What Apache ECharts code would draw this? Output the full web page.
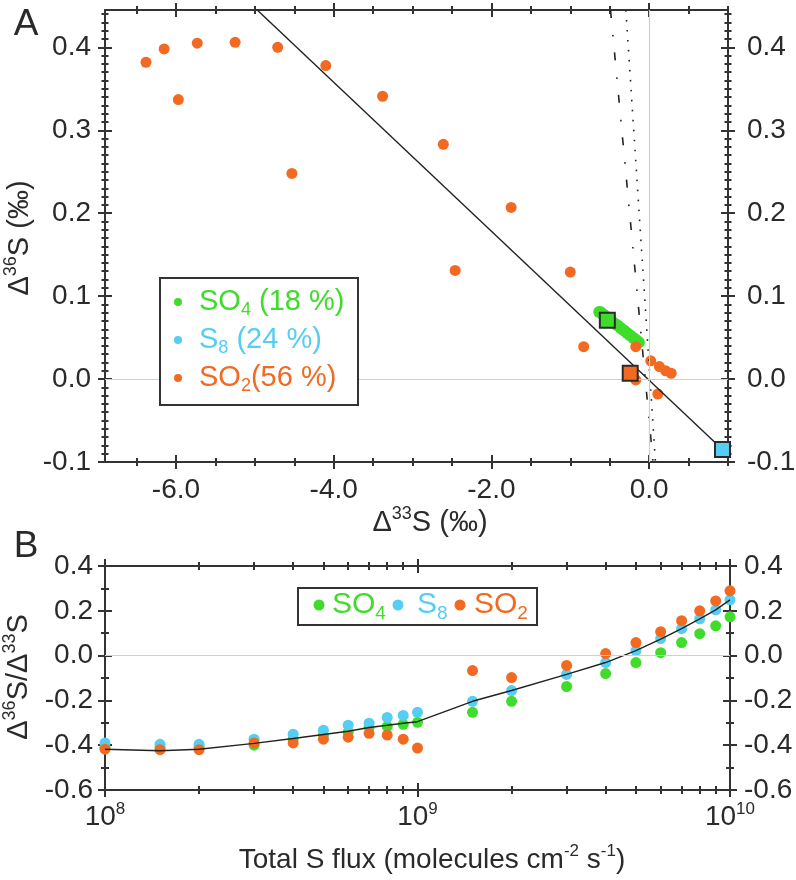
<!DOCTYPE html>
<html><head><meta charset="utf-8">
<script src="https://cdn.jsdelivr.net/npm/echarts@6/dist/echarts.min.js"></script>
<style>html,body{margin:0;padding:0;background:#fff;}#c{width:796px;height:880px;}</style>
</head><body><div id="c"></div>
<script>
// ---------- Panel A data (Δ33S vs Δ36S, ‰) ----------
const so2A_x = [-6.38,-6.15,-5.97,-5.73,-5.25,-4.71,-4.53,-4.10,-3.38,-2.61,-2.46,-1.75,-1.00,-0.83,-0.17,-0.17,0.02,0.13,0.21,0.28,0.11];
const so2A_y = [0.382,0.398,0.337,0.405,0.406,0.400,0.248,0.378,0.341,0.283,0.131,0.207,0.129,0.039,0.039,-0.001,0.022,0.015,0.010,0.007,-0.018];
const so4A_x = [-0.633,-0.615,-0.59,-0.56,-0.52,-0.48,-0.44,-0.40,-0.36,-0.32,-0.28,-0.24,-0.20,-0.165,-0.13];
const so4A_y = [0.081,0.0805,0.0785,0.0765,0.073,0.070,0.067,0.0645,0.0615,0.0585,0.0555,0.0525,0.0495,0.047,0.0445];
const meanA_x = [-0.53,-0.24,0.93];      // SO4, SO2, S8 means (squares)
const meanA_y = [0.071,0.007,-0.085];
const fitA_x = [-4.97,0.93];
const fitA_y = [0.445,-0.085];
const dashDotA_x = [-0.49,0.05];
const dashDotA_y = [0.445,-0.1];
const dotA_x = [-0.295,0.08];
const dotA_y = [0.445,-0.1];
const xTicksA = [-6,-4,-2,0];
const yTicksA = [-0.1,0,0.1,0.2,0.3,0.4];

// ---------- Panel B data ----------
const fluxB = [1e8,1.5e8,2e8,3e8,4e8,5e8,6e8,7e8,8e8,9e8,1e9,1.5e9,2e9,3e9,4e9,5e9,6e9,7e9,8e9,9e9,1e10];
const so4B = [-0.41,-0.41,-0.41,-0.40,-0.373,-0.355,-0.342,-0.32,-0.316,-0.307,-0.298,-0.253,-0.204,-0.138,-0.08,-0.031,0.013,0.058,0.098,0.133,0.173];
const s8B  = [-0.39,-0.396,-0.396,-0.373,-0.351,-0.333,-0.311,-0.302,-0.276,-0.267,-0.253,-0.204,-0.156,-0.084,-0.031,0.022,0.076,0.12,0.164,0.204,0.249];
const so2B = [-0.418,-0.42,-0.42,-0.39,-0.39,-0.373,-0.364,-0.347,-0.355,-0.373,-0.413,-0.067,-0.098,-0.044,0.009,0.058,0.107,0.156,0.2,0.244,0.289];
const totalB = [-0.418,-0.425,-0.418,-0.392,-0.37,-0.352,-0.338,-0.321,-0.311,-0.302,-0.295,-0.204,-0.156,-0.084,-0.031,0.022,0.074,0.12,0.164,0.204,0.249];
const xTicksB = [1e8,1e9,1e10];
const yTicksB = [-0.6,-0.4,-0.2,0,0.2,0.4];

// ---------- styling ----------
const GREEN = '#3fdc2c', CYAN = '#56cdf2', ORANGE = '#f26a22';
const AX = '#333', TXT = '#2a2a2a';
const FF = '"Liberation Sans", Arial, Helvetica, sans-serif';

function steps(a, b, s) { const r = []; for (let v = a; v <= b + 1e-9; v += s) r.push(+v.toFixed(6)); return r; }
function minus(all, majors) { return all.filter(v => !majors.some(m => Math.abs(m - v) < 1e-7)); }

const xMinA = minus(steps(-6.5, 1.0, 0.5), xTicksA);
const yMinA = minus(steps(-0.1, 0.44, 0.01), yTicksA);
const yMinB = minus(steps(-0.6, 0.4, 0.1), yTicksB);
const xMinB = [];
[1e8, 1e9].forEach(d => { for (let k = 2; k <= 9; k++) xMinB.push(k * d); });

function axisSet(grid, pos, common, majors, minors, majLen, minLen, label) {
  const mk = (vals, len, inside, showLine, lab) => Object.assign({
    gridIndex: grid, position: pos,
    splitLine: {show: false}, splitArea: {show: false}, minorTick: {show: false},
    axisLine: {show: showLine, onZero: false, lineStyle: {color: AX, width: 2}},
    axisTick: {show: true, inside: inside, length: len, customValues: vals, lineStyle: {color: AX, width: 2}},
    axisLabel: lab ? Object.assign({show: true, customValues: majors, color: TXT, fontFamily: FF}, lab) : {show: false}
  }, common);
  return [mk(majors, majLen, false, true, label), mk(majors, majLen, true, false, null),
          mk(minors, minLen, false, false, null), mk(minors, minLen, true, false, null)];
}

const cXA = {type: 'value', min: -6.9, max: 1.0};
const cYA = {type: 'value', min: -0.1, max: 0.445};
const cXB = {type: 'log', logBase: 10, min: 1e8, max: 1e10};
const cYB = {type: 'value', min: -0.6, max: 0.4};
const fmt1 = v => v.toFixed(1);

const xAxes = [].concat(
  axisSet(0, 'bottom', cXA, xTicksA, xMinA, 7, 4, {fontSize: 28, margin: 14, formatter: fmt1}),
  axisSet(0, 'top', cXA, xTicksA, xMinA, 7, 4, null),
  axisSet(1, 'bottom', cXB, xTicksB, xMinB, 7, 4, {
    margin: 11,
    formatter: v => '{b|10}{s|' + Math.round(Math.log10(v)) + '}',
    rich: {b: {fontSize: 28, lineHeight: 32, fontFamily: FF, color: TXT},
           s: {fontSize: 17, lineHeight: 17, verticalAlign: 'top', fontFamily: FF, color: TXT}}
  }),
  axisSet(1, 'top', cXB, xTicksB, xMinB, 7, 4, null)
);
const yAxes = [].concat(
  axisSet(0, 'left', cYA, yTicksA, yMinA, 7, 3.5, {fontSize: 28, margin: 14, formatter: fmt1}),
  axisSet(0, 'right', cYA, yTicksA, yMinA, 7, 3.5, {fontSize: 28, margin: 19, formatter: fmt1}),
  axisSet(1, 'left', cYB, yTicksB, yMinB, 7, 4, {fontSize: 28, margin: 12, formatter: fmt1}),
  axisSet(1, 'right', cYB, yTicksB, yMinB, 7, 4, {fontSize: 28, margin: 14, formatter: fmt1})
);

const zip = (a, b) => a.map((v, i) => [v, b[i]]);
const gray = {silent: true, symbol: 'none', label: {show: false}, lineStyle: {color: '#cfcfcf', width: 1.2, type: 'solid'}};
const dot = (c) => ({color: c, opacity: 1});

const series = [
  // Panel A
  {type: 'scatter', name: 'SO4', xAxisIndex: 0, yAxisIndex: 0, data: zip(so4A_x, so4A_y), symbolSize: 12, itemStyle: dot(GREEN),
   markLine: Object.assign({data: [{yAxis: 0}, {xAxis: 0}]}, gray)},
  {type: 'scatter', name: 'SO2', xAxisIndex: 0, yAxisIndex: 0, data: zip(so2A_x, so2A_y), symbolSize: 11, itemStyle: dot(ORANGE)},
  {type: 'line', xAxisIndex: 0, yAxisIndex: 0, data: zip(fitA_x, fitA_y), showSymbol: false, symbol: 'none',
   lineStyle: {color: '#222', width: 1.4}},
  {type: 'line', xAxisIndex: 0, yAxisIndex: 0, data: zip(dashDotA_x, dashDotA_y), showSymbol: false, symbol: 'none',
   lineStyle: {color: '#222', width: 1.6, type: [8, 17, 1.6, 16]}},
  {type: 'line', xAxisIndex: 0, yAxisIndex: 0, data: zip(dotA_x, dotA_y), showSymbol: false, symbol: 'none',
   lineStyle: {color: '#222', width: 1.6, type: [1.6, 8.4]}},
  {type: 'scatter', xAxisIndex: 0, yAxisIndex: 0, symbol: 'rect', symbolSize: 15,
   data: [{value: [meanA_x[0], meanA_y[0]], itemStyle: {color: GREEN}},
          {value: [meanA_x[1], meanA_y[1]], itemStyle: {color: ORANGE}},
          {value: [meanA_x[2], meanA_y[2]], itemStyle: {color: CYAN}}],
   itemStyle: {borderColor: '#2a2a2a', borderWidth: 2, opacity: 1}, z: 5},
  // Panel B
  {type: 'scatter', name: 'SO4', xAxisIndex: 8, yAxisIndex: 8, data: zip(fluxB, so4B), symbolSize: 11, itemStyle: dot(GREEN),
   markLine: Object.assign({data: [{yAxis: 0}]}, gray)},
  {type: 'scatter', name: 'S8', xAxisIndex: 8, yAxisIndex: 8, data: zip(fluxB, s8B), symbolSize: 11, itemStyle: dot(CYAN)},
  {type: 'scatter', name: 'SO2', xAxisIndex: 8, yAxisIndex: 8, data: zip(fluxB, so2B), symbolSize: 11, itemStyle: dot(ORANGE)},
  {type: 'line', xAxisIndex: 8, yAxisIndex: 8, data: zip(fluxB, totalB), showSymbol: false, symbol: 'none',
   lineStyle: {color: '#222', width: 1.4}, z: 4}
];

function rich(size, color) {
  return {
    m: {fontSize: size, lineHeight: size + 6, fontFamily: FF, fill: color},
    s: {fontSize: Math.round(size * 0.62), lineHeight: Math.round(size * 0.62), verticalAlign: 'bottom', fontFamily: FF, fill: color},
    p: {fontSize: Math.round(size * 0.62), lineHeight: Math.round(size * 0.62), verticalAlign: 'top', fontFamily: FF, fill: color}
  };
}
function txt(x, y, text, size, color, rot, align) {
  return {type: 'text', x: x, y: y, rotation: rot || 0, z: 100, silent: true,
    style: {text: text, rich: rich(size, color), fill: color, fontSize: size, fontFamily: FF,
            align: align || 'center', verticalAlign: 'middle', textAlign: align || 'center', textVerticalAlign: 'middle'}};
}

const graphic = [
  txt(26, 25, '{m|A}', 37, TXT),
  txt(26, 547, '{m|B}', 37, TXT),
  txt(430, 523, '{m|Δ}{p|33}{m|S (‰)}', 29, TXT),
  txt(20, 238, '{m|Δ}{p|36}{m|S (‰)}', 29, TXT, Math.PI / 2),
  txt(432, 860, '{m|Total S flux (molecules cm}{p|-2}{m| s}{p|-1}{m|)}', 28, TXT),
  txt(19, 677, '{m|Δ}{p|36}{m|S/Δ}{p|33}{m|S}', 29, TXT, Math.PI / 2),
  // legend A
  {type: 'rect', shape: {x: 160, y: 278, width: 198, height: 127}, style: {fill: '#fff', stroke: '#333', lineWidth: 2}, z: 90, silent: true},
  {type: 'circle', shape: {cx: 178, cy: 302, r: 4}, style: {fill: GREEN}, z: 100, silent: true},
  {type: 'circle', shape: {cx: 178, cy: 340, r: 4}, style: {fill: CYAN}, z: 100, silent: true},
  {type: 'circle', shape: {cx: 178, cy: 378, r: 4}, style: {fill: ORANGE}, z: 100, silent: true},
  txt(199, 302, '{m|SO}{s|4}{m| (18 %)}', 29, GREEN, 0, 'left'),
  txt(199, 340, '{m|S}{s|8}{m| (24 %)}', 29, CYAN, 0, 'left'),
  txt(199, 378, '{m|SO}{s|2}{m|(56 %)}', 29, ORANGE, 0, 'left'),
  // legend B
  {type: 'rect', shape: {x: 298, y: 588, width: 239, height: 37}, style: {fill: '#fff', stroke: '#333', lineWidth: 2}, z: 90, silent: true},
  {type: 'circle', shape: {cx: 319, cy: 605, r: 5.5}, style: {fill: GREEN}, z: 100, silent: true},
  {type: 'circle', shape: {cx: 398, cy: 605, r: 5.5}, style: {fill: CYAN}, z: 100, silent: true},
  {type: 'circle', shape: {cx: 460, cy: 605, r: 5.5}, style: {fill: ORANGE}, z: 100, silent: true},
  txt(332, 605, '{m|SO}{s|4}', 30, GREEN, 0, 'left'),
  txt(417, 605, '{m|S}{s|8}', 30, CYAN, 0, 'left'),
  txt(474, 605, '{m|SO}{s|2}', 30, ORANGE, 0, 'left')
];

const chart = echarts.init(document.getElementById('c'), null, {renderer: 'canvas'});
chart.setOption({
  animation: false,
  backgroundColor: '#fff',
  textStyle: {fontFamily: FF},
  grid: [
    {left: 105, top: 10, width: 623, height: 452, containLabel: false, outerBoundsMode: 'none'},
    {left: 105, top: 566, width: 625, height: 224, containLabel: false, outerBoundsMode: 'none'}
  ],
  xAxis: xAxes,
  yAxis: yAxes,
  series: series,
  graphic: graphic
});
</script>
</body></html>
